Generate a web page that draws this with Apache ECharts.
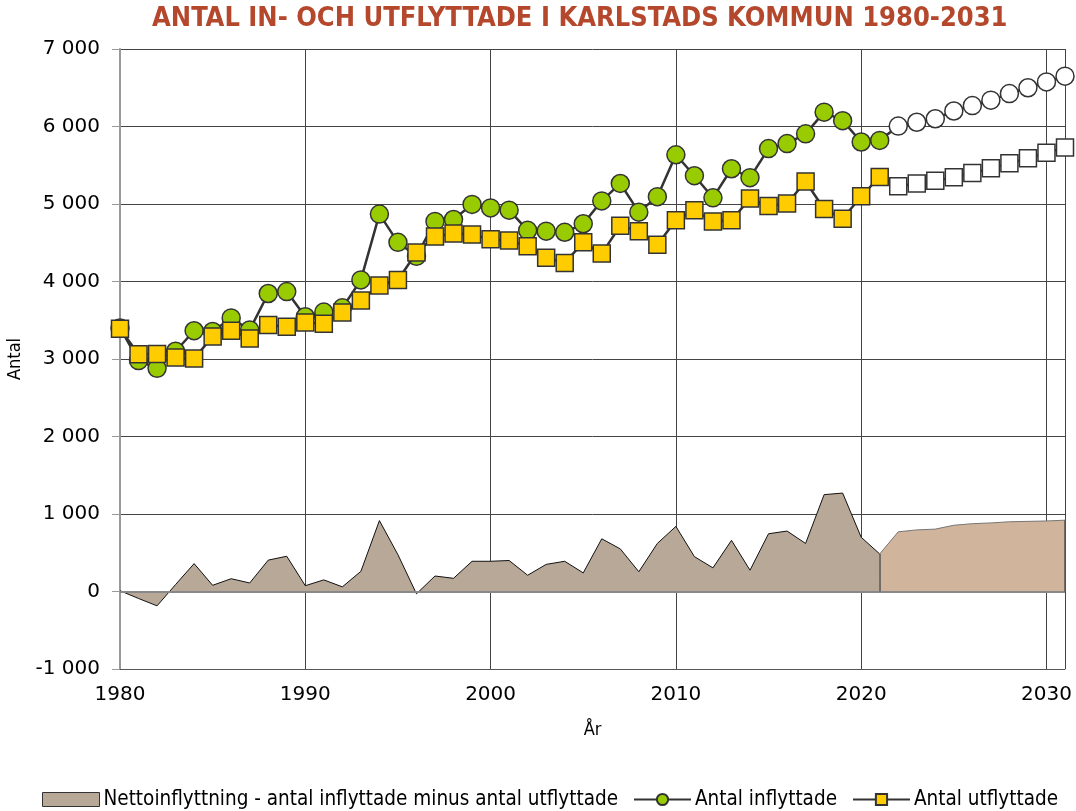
<!DOCTYPE html>
<html>
<head>
<meta charset="utf-8">
<script src="https://cdn.jsdelivr.net/npm/echarts@6/dist/echarts.min.js"></script>
<style>html,body{margin:0;padding:0;background:#fff}#c{width:1076px;height:811px}</style>
</head>
<body>
<div id="c"></div>
<script>
const titleText = 'ANTAL IN- OCH UTFLYTTADE I KARLSTADS KOMMUN 1980-2031';
const years = [1980,1981,1982,1983,1984,1985,1986,1987,1988,1989,1990,1991,1992,1993,1994,1995,1996,1997,1998,1999,2000,2001,2002,2003,2004,2005,2006,2007,2008,2009,2010,2011,2012,2013,2014,2015,2016,2017,2018,2019,2020,2021,2022,2023,2024,2025,2026,2027,2028,2029,2030,2031];
const lastActualYear = 2021;
const inflyttade = [3400,2980,2880,3100,3365,3355,3530,3375,3845,3870,3545,3605,3660,4020,4870,4505,4325,4775,4800,4995,4950,4920,4660,4650,4635,4745,5040,5265,4895,5095,5635,5365,5080,5455,5340,5715,5780,5905,6185,6075,5800,5820,6005,6055,6100,6200,6270,6340,6425,6500,6575,6650];
const utflyttade = [3390,3060,3065,3020,3005,3290,3365,3265,3440,3415,3470,3455,3600,3755,3950,4020,4375,4580,4620,4605,4545,4530,4455,4305,4240,4505,4360,4720,4650,4475,4790,4920,4775,4790,5070,4975,5005,5290,4935,4810,5100,5350,5230,5265,5300,5345,5400,5460,5525,5590,5660,5730];
const netto = [10,-90,-185,90,360,80,165,110,405,455,75,150,60,260,915,475,-30,200,170,390,390,400,210,350,390,240,680,550,255,620,840,450,305,660,275,745,780,620,1250,1270,700,485,770,795,805,855,875,885,900,905,910,920];
const yTicks = {min:-1000, max:7000, interval:1000};
const xTicks = {min:1980, max:2031, interval:10};
const names = ['Nettoinflyttning - antal inflyttade minus antal utflyttade','Antal inflyttade','Antal utflyttade'];

const fmt = v => { const s = Math.abs(v).toString().replace(/\B(?=(\d{3})+(?!\d))/g,' '); return (v<0?'-':'') + s; };

const netHist = [], netFc = [];
years.forEach((y,i)=>{ if (y<=lastActualYear) netHist.push([y,netto[i]]); if (y>=lastActualYear) netFc.push([y,netto[i]]); });
const mk = (arr, fill) => years.map((y,i)=> y>lastActualYear ? {value:[y,arr[i]], itemStyle:{color:'#ffffff'}} : {value:[y,arr[i]], itemStyle:{color:fill}});

const chart = echarts.init(document.getElementById('c'));
chart.setOption({
  animation:false,
  backgroundColor:'#fff',
  title:{text:titleText, left:147, top:0, textStyle:{fontFamily:'DejaVu Sans Condensed', fontWeight:'bold', fontSize:27, color:'#b4472c'}},
  grid:{left:120, right:11, top:49, bottom:142, containLabel:false, outerBoundsMode:'none'},
  legend:{left:37, top:784, itemGap:15, itemWidth:57, itemHeight:14,
    textStyle:{fontFamily:'DejaVu Sans Condensed', fontSize:20.5, color:'#000', padding:[0,0,0,-1]},
    data:[{name:names[0], icon:'rect', itemStyle:{color:'#b8a898', borderColor:'#333', borderWidth:1}}, {name:names[1]}, {name:names[2]}]},
  xAxis:{type:'value', min:xTicks.min, max:xTicks.max, interval:xTicks.interval,
    name:'År', nameLocation:'middle', nameGap:52, nameTextStyle:{fontFamily:'DejaVu Sans Condensed', fontSize:18, color:'#000'},
    axisLine:{onZero:false, lineStyle:{color:'#555', width:1}}, axisTick:{show:false},
    axisLabel:{margin:16, fontFamily:'DejaVu Sans', fontSize:20, color:'#000', formatter:v=> v===xTicks.max ? '' : String(v)},
    splitLine:{show:true, lineStyle:{color:'#444', width:1}}},
  yAxis:{type:'value', min:yTicks.min, max:yTicks.max, interval:yTicks.interval,
    name:'Antal', nameLocation:'middle', nameGap:96, nameTextStyle:{fontFamily:'DejaVu Sans Condensed', fontSize:18, color:'#000'},
    axisLine:{show:true, lineStyle:{color:'#999', width:2}}, axisTick:{show:true, length:8, lineStyle:{color:'#999'}},
    axisLabel:{margin:20, fontFamily:'DejaVu Sans', fontSize:20, color:'#000', formatter:fmt},
    splitLine:{show:true, lineStyle:{color:'#444', width:1}}},
  series:[
    {name:names[0], type:'line', data:netHist, symbol:'none', z:1,
      lineStyle:{color:'#111', width:1}, itemStyle:{color:'#b8a898'}, areaStyle:{color:'#b8a898', opacity:1},
      markLine:{silent:true, symbol:'none', label:{show:false}, lineStyle:{color:'#888', width:2, type:'solid'}, data:[{yAxis:0}]}},
    {name:'Prognos netto', type:'line', data:netFc, symbol:'none', z:1,
      lineStyle:{color:'#777', width:1}, itemStyle:{color:'#d0b49b'}, areaStyle:{color:'#d0b49b', opacity:1},
      markLine:{silent:true, symbol:'none', label:{show:false}, lineStyle:{color:'#555', width:1.5, type:'solid'},
        data:[[{coord:[netFc[0][0],0]},{coord:[netFc[0][0],netFc[0][1]]}], [{coord:[netFc[netFc.length-1][0],0]},{coord:[netFc[netFc.length-1][0],netFc[netFc.length-1][1]]}]]}},
    {name:names[1], type:'line', data:mk(inflyttade,'#99cc00'), symbol:'circle', symbolSize:18, z:3,
      lineStyle:{color:'#333', width:2.5}, itemStyle:{color:'#99cc00', borderColor:'#333', borderWidth:1.5}},
    {name:names[2], type:'line', data:mk(utflyttade,'#ffcc00'), symbol:'rect', symbolSize:17, z:4,
      lineStyle:{color:'#333', width:2.5}, itemStyle:{color:'#ffcc00', borderColor:'#333', borderWidth:1.5}}
  ]
});
</script>
</body>
</html>
